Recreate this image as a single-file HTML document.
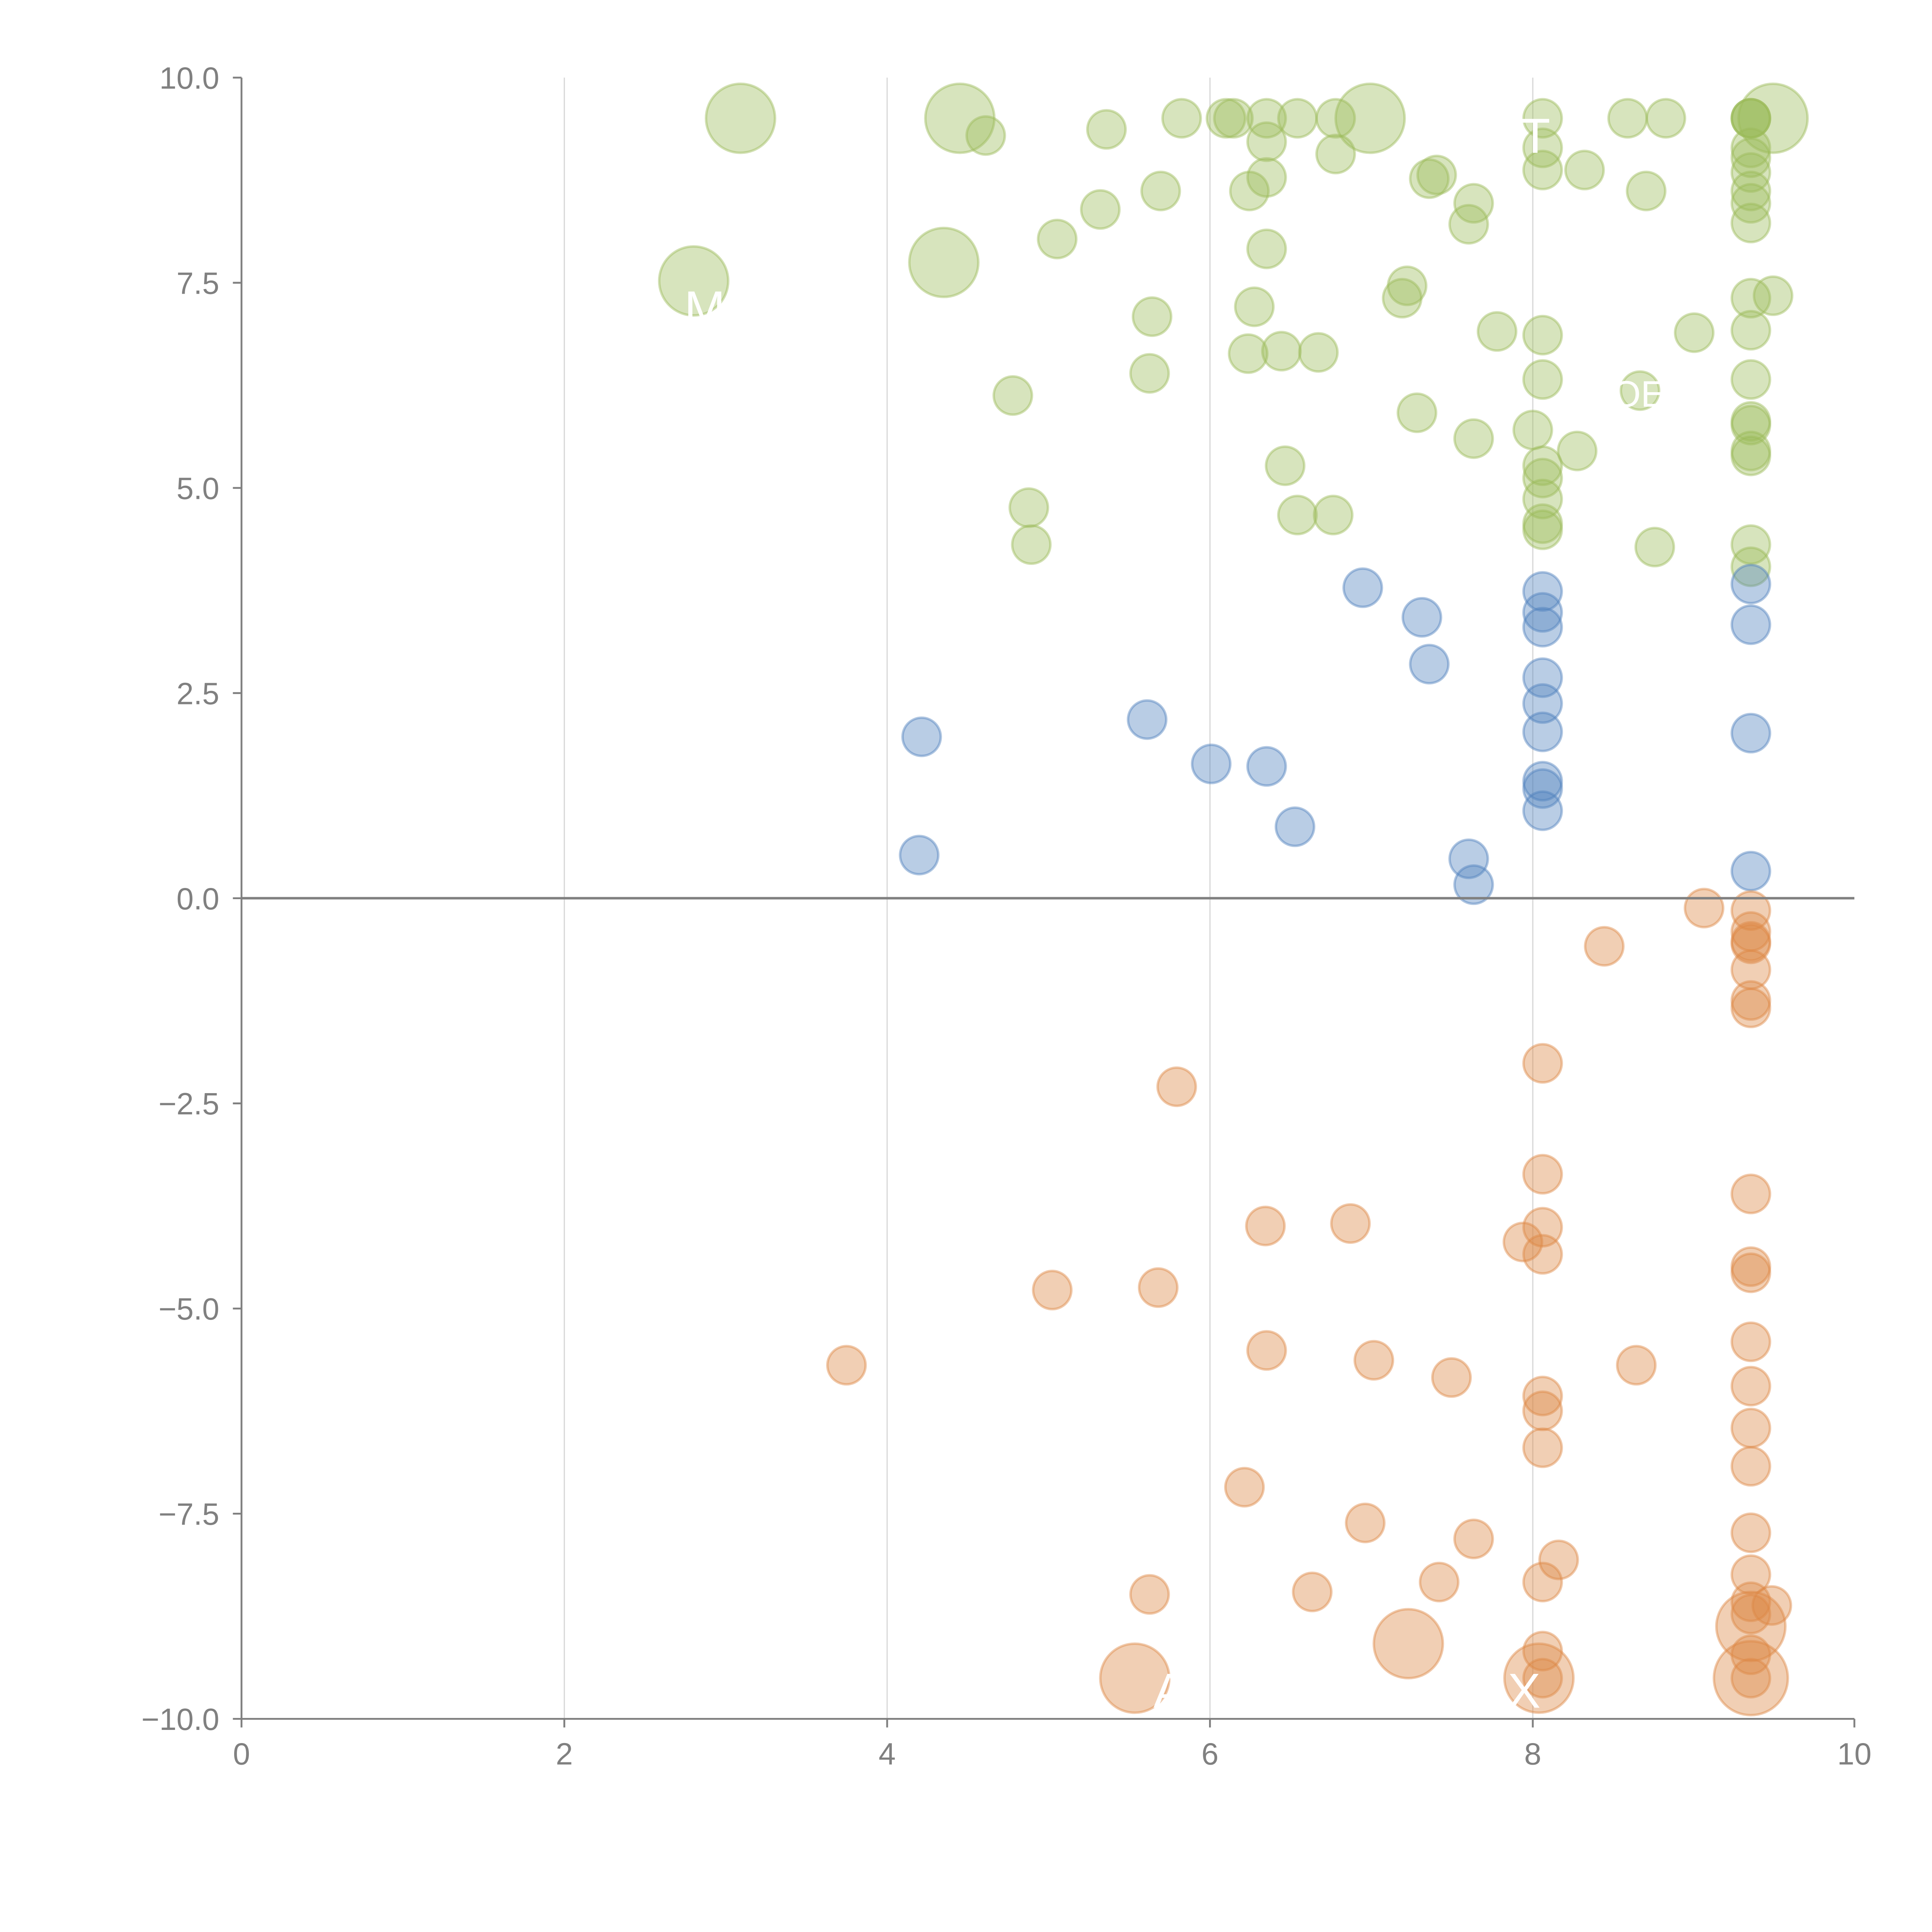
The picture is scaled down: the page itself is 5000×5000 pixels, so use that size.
<!DOCTYPE html>
<html><head><meta charset="utf-8"><style>html,body{margin:0;padding:0;background:#fff}svg{display:block}</style></head>
<body>
<svg id="s" width="5000" height="5000" viewBox="0 0 1568 1568" xmlns="http://www.w3.org/2000/svg" font-family="Liberation Sans, Arial, sans-serif">
<rect width="1568" height="1568" fill="#fff"/>
<g stroke="#d9d9d9" stroke-width="1">
<line x1="458" y1="63" x2="458" y2="1395"/><line x1="720" y1="63" x2="720" y2="1395"/>
<line x1="982" y1="63" x2="982" y2="1395"/><line x1="1244" y1="63" x2="1244" y2="1395"/>
</g>
<g id="pts"></g>
<line x1="196" y1="729" x2="1505" y2="729" stroke="#808080" stroke-width="2"/>
<g stroke="#808080" stroke-width="1.5">
<line x1="196" y1="63" x2="196" y2="1395"/><line x1="196" y1="1395" x2="1505" y2="1395"/>
<line x1="189" y1="63" x2="196" y2="63"/><line x1="189" y1="229.5" x2="196" y2="229.5"/>
<line x1="189" y1="396" x2="196" y2="396"/><line x1="189" y1="562.5" x2="196" y2="562.5"/>
<line x1="189" y1="729" x2="196" y2="729"/><line x1="189" y1="895.5" x2="196" y2="895.5"/>
<line x1="189" y1="1062" x2="196" y2="1062"/><line x1="189" y1="1228.5" x2="196" y2="1228.5"/>
<line x1="189" y1="1395" x2="196" y2="1395"/>
<line x1="196" y1="1395" x2="196" y2="1402"/><line x1="458" y1="1395" x2="458" y2="1402"/>
<line x1="720" y1="1395" x2="720" y2="1402"/><line x1="982" y1="1395" x2="982" y2="1402"/>
<line x1="1244" y1="1395" x2="1244" y2="1402"/><line x1="1505" y1="1395" x2="1505" y2="1402"/>
</g>
<g fill="#808080" font-size="25" text-anchor="end">
<text x="178" y="72">10.0</text><text x="178" y="238.5">7.5</text><text x="178" y="405">5.0</text>
<text x="178" y="571.5">2.5</text><text x="178" y="738">0.0</text><text x="178" y="904.5">−2.5</text>
<text x="178" y="1071">−5.0</text><text x="178" y="1237.5">−7.5</text><text x="178" y="1404">−10.0</text>
</g>
<g fill="#808080" font-size="25" text-anchor="middle">
<text x="196" y="1432">0</text><text x="458" y="1432">2</text><text x="720" y="1432">4</text>
<text x="982" y="1432">6</text><text x="1244" y="1432">8</text><text x="1505" y="1432">10</text>
</g>
<g fill="#fff" font-size="40" text-anchor="middle">
<text x="572" y="264">M</text><text x="955" y="1386">AI</text><text x="1237" y="1386">X</text>
<text x="1246" y="124">T</text><text x="1330" y="330" font-size="30">OE</text>
</g>
</svg>
<script>
var G=[[601,96,28],[779,96,28],[1112,96,28],[1439,96,28],[563,228,28],[766,213,28],
[800,110],[898,105],[959,96],[995,96],[1001,96],[1028,96],[1053,96],[1084,96],[1252,96],[1321,96],[1352,96],[1028,115],[1084,125],[1252,120],[1286,138],[1252,138],[1166,142],[1160,145],[1028,144],[1014,155],[942,155],[1196,165],[1192,182],[1336,155],[893,170],[858,194],[1028,202],[1142,232],[1138,242],[1018,249],[935,257],[1215,269],[1252,272],[1375,270],[1439,240],[1013,287],[1040,285],[1070,286],[933,303],[822,321],[1252,308],[1331,317],[1150,335],[1196,356],[1244,349],[1280,366],[1043,378],[1252,378],[1252,388],[1252,405],[1252,425],[1252,430],[835,412],[837,442],[1053,418],[1082,418],[1343,444]];
[96,96,96,120,128,140,155,165,181,242,268,308,342,345,366,370,442,460].forEach(function(y){G.push([1421,y])});
var B=[[1106,477],[1154,501],[1160,539],[748,598],[931,584],[983,620],[1028,622],[1051,671],[746,694],[1192,697],[1196,718]];
[480,497,509,550,571,594,634,640,658].forEach(function(y){B.push([1252,y])});
[474,507,595,707].forEach(function(y){B.push([1421,y])});
var O=[[1383,737],[1302,768],[955,882],[1252,863],[1252,953],[1027,995],[1096,993],[1236,1008],[1252,996],[1252,1018],[854,1047],[940,1045],[687,1108],[1028,1096],[1115,1104],[1178,1118],[1328,1108],[1252,1133],[1252,1145],[1252,1175],[1010,1207],[1108,1236],[1196,1249],[1265,1266],[1168,1284],[1252,1284],[933,1294],[1065,1292],[1438,1303],[1252,1340],[1252,1362],
[921,1362,28],[1143,1334,28],[1249,1362,28],[1421,1362,30],[1421,1320,28]];
[739,756,764,766,787,812,818,969,1028,1033,1089,1125,1159,1190,1244,1278,1300,1310,1343,1362].forEach(function(y){O.push([1421,y])});
var g=document.getElementById('pts'),h='';
function add(a,c){a.forEach(function(p){h+='<circle cx="'+p[0]+'" cy="'+p[1]+'" r="'+(p[2]||15.5)+'" fill="'+c+'" fill-opacity="0.4" stroke="'+c+'" stroke-opacity="0.45" stroke-width="2"/>';});}
add(G,'#9bbb59');add(B,'#4f81bd');add(O,'#dd8844');
g.innerHTML=h;
</script>
</body></html>
